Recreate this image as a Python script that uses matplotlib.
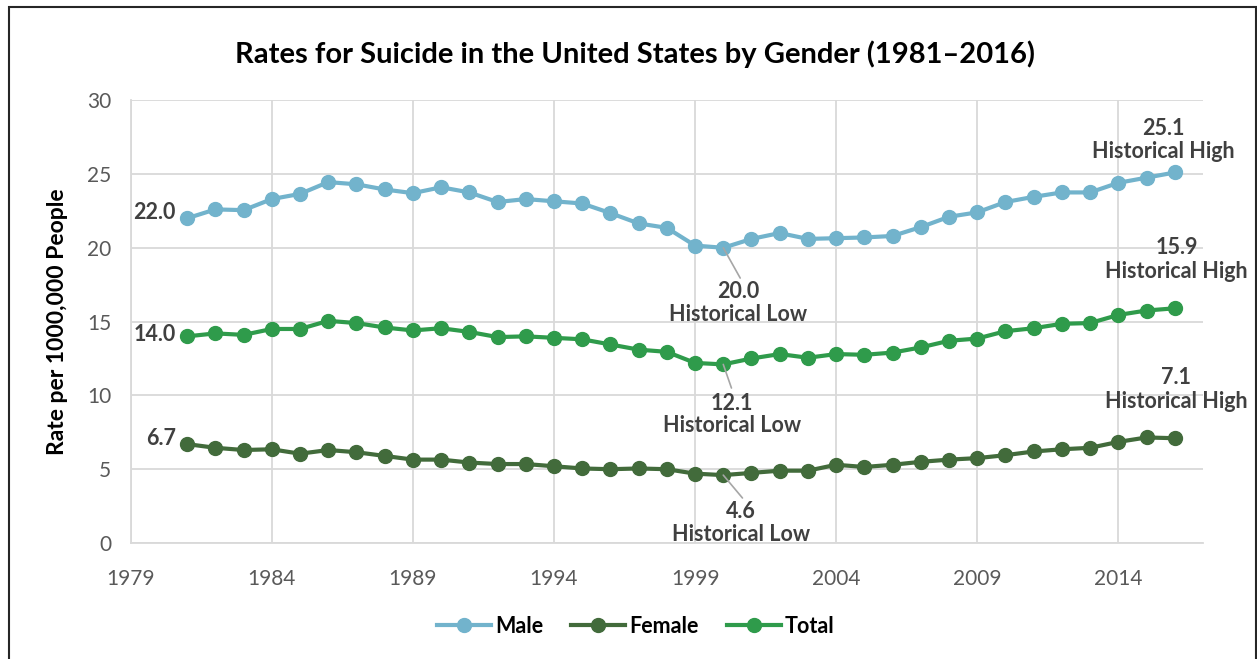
import matplotlib.pyplot as plt
import matplotlib.patches as patches
import numpy as np

plt.rcParams['font.family'] = ['Lato', 'DejaVu Sans']

years = list(range(1981, 2017))
male = [22.0, 22.6, 22.55, 23.3, 23.65, 24.45, 24.3, 23.95, 23.7, 24.1, 23.75, 23.1,
        23.3, 23.15, 23.0, 22.35, 21.65, 21.35, 20.15, 20.0, 20.6, 21.0, 20.6, 20.65,
        20.7, 20.8, 21.4, 22.1, 22.4, 23.1, 23.45, 23.75, 23.75, 24.4, 24.75, 25.1]
female = [6.7, 6.45, 6.3, 6.35, 6.05, 6.3, 6.15, 5.9, 5.65, 5.65, 5.45, 5.35,
          5.35, 5.2, 5.05, 5.0, 5.05, 5.0, 4.7, 4.6, 4.75, 4.9, 4.9, 5.3,
          5.15, 5.3, 5.5, 5.65, 5.75, 5.95, 6.2, 6.35, 6.45, 6.85, 7.15, 7.1]
total = [14.0, 14.2, 14.1, 14.5, 14.5, 15.05, 14.9, 14.6, 14.4, 14.55, 14.3, 13.95,
         14.0, 13.9, 13.8, 13.45, 13.1, 12.95, 12.2, 12.1, 12.5, 12.8, 12.55, 12.8,
         12.75, 12.9, 13.25, 13.7, 13.85, 14.35, 14.55, 14.85, 14.9, 15.45, 15.75, 15.9]

c_male = '#72B3CC'
c_female = '#426B3B'
c_total = '#2F9B4B'
txt = '#404040'
fs = 15.5

fig = plt.figure(figsize=(12.57, 6.59), dpi=100)
ax = fig.add_axes([0.104, 0.176, 0.853, 0.672])

for vals, col, name in [(male, c_male, 'Male'), (female, c_female, 'Female'), (total, c_total, 'Total')]:
    ax.plot(years, vals, color=col, lw=3, marker='o', ms=10, label=name, zorder=3)

ax.set_xlim(1979, 2017)
ax.set_ylim(0, 30)
ax.set_xticks(range(1979, 2017, 5))
ax.set_yticks(range(0, 31, 5))
ax.grid(True, color='#D9D9D9', lw=1.3)
ax.set_axisbelow(True)
for s in ['top', 'right']:
    ax.spines[s].set_visible(False)
for s in ['left', 'bottom']:
    ax.spines[s].set_color('#D9D9D9')
    ax.spines[s].set_linewidth(1.3)
ax.tick_params(length=0, labelsize=15, labelcolor='#595959')
ax.tick_params(axis='x', pad=19)
ax.tick_params(axis='y', pad=14)
ax.set_ylabel('Rate per 1000,000 People', fontsize=16.5, fontweight='bold', labelpad=14)

fig.text(0.505, 0.918, 'Rates for Suicide in the United States by Gender (1981\u20132016)',
         ha='center', va='center', fontsize=21, fontweight='bold')

# start labels
for v in [male[0], total[0], female[0]]:
    ax.text(1980.6, v + 0.4 if v != total[0] else v + 0.1, '%.1f' % v, ha='right', va='center',
            fontsize=fs, fontweight='bold', color=txt)

# historical highs
ax.text(2015.6, 27.3, '%.1f\nHistorical High' % male[-1], ha='center', va='center',
        fontsize=fs, fontweight='bold', color=txt, linespacing=1.1)
ax.text(2016.06, 19.2, '%.1f\nHistorical High' % total[-1], ha='center', va='center',
        fontsize=fs, fontweight='bold', color=txt, linespacing=1.2)
ax.text(2016.06, 10.4, '%.1f\nHistorical High' % female[-1], ha='center', va='center',
        fontsize=fs, fontweight='bold', color=txt, linespacing=1.2)

# historical lows with leader lines
i = years.index(2000)
for vals, tpos, lend in [(male, (2000.54, 16.25), (2000.6, 17.95)),
                         (total, (2000.32, 8.7), (2000.29, 10.5)),
                         (female, (2000.64, 1.35), (2000.68, 3.05))]:
    ax.annotate('', xy=(years[i], vals[i]), xytext=lend,
                arrowprops=dict(arrowstyle='-', color='#A6A6A6', lw=1.2, shrinkA=0, shrinkB=0))
    ax.text(tpos[0], tpos[1], '%.1f\nHistorical Low' % vals[i], ha='center', va='center',
            fontsize=fs, fontweight='bold', color=txt, linespacing=1.1)

leg = fig.legend(loc='center', bbox_to_anchor=(0.506, 0.05), ncol=3, frameon=False,
                 handlelength=2.5, columnspacing=1.3, handletextpad=0.2,
                 prop={'size': 15.5, 'weight': 'bold'})

fig.patches.append(patches.Rectangle((0.0072, -0.02), 0.992, 1.0094, transform=fig.transFigure,
                                     fill=False, ec='#262626', lw=1.5))

fig.savefig('out.png', dpi=100)
